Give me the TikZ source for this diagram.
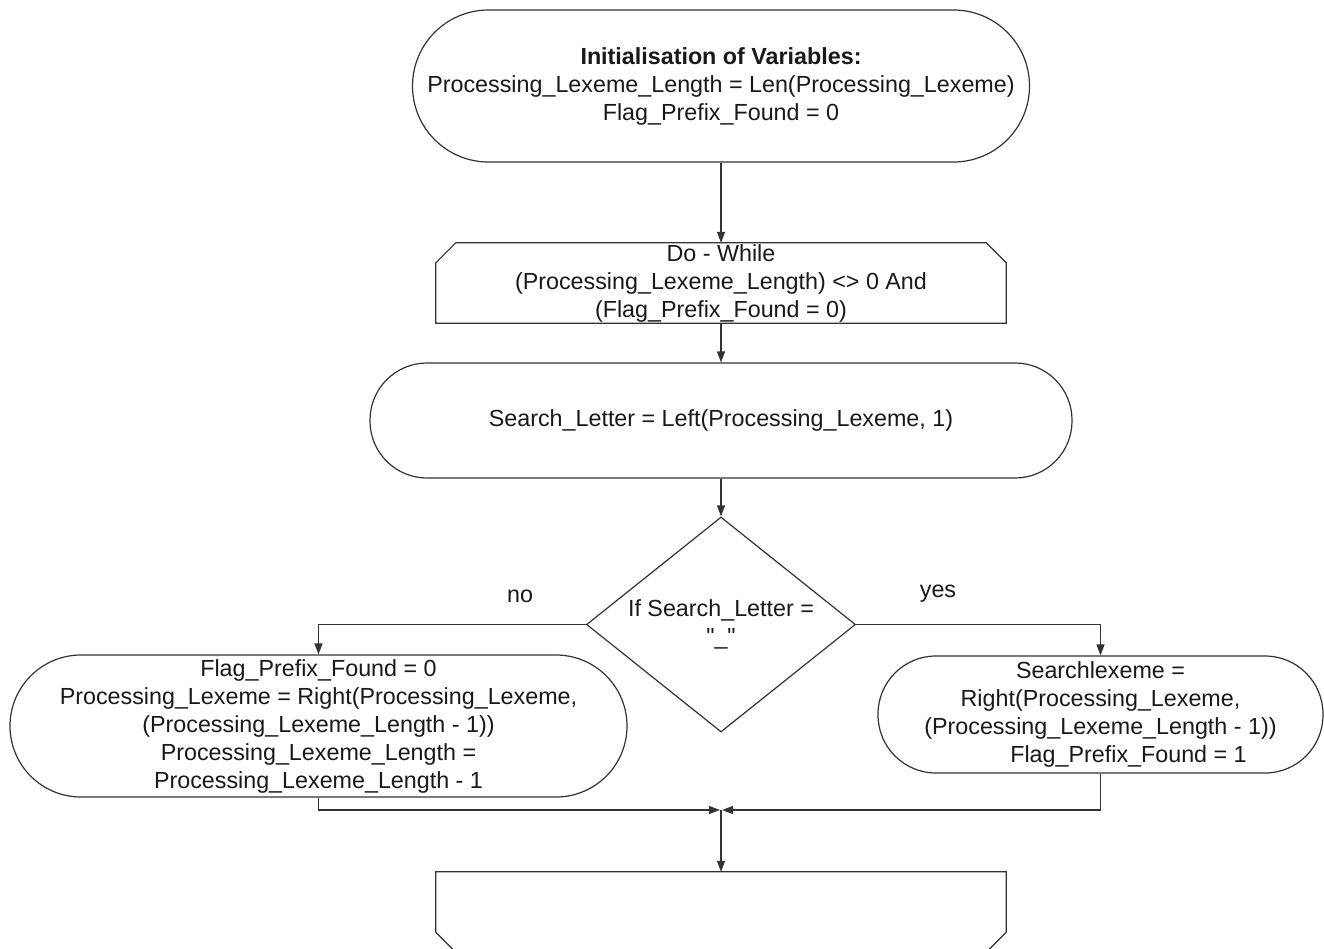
\documentclass[tikz,border=0pt]{standalone}
\usepackage{fontspec}
\setmainfont{Liberation Sans}
\newfontfamily\qfont{Liberation Sans}[Ligatures=TeXOff]
\usetikzlibrary{arrows.meta,shapes.geometric}
\begin{document}
\begin{tikzpicture}[x=1pt,y=-1pt,
  every node/.style={font=\fontsize{23.3}{28}\selectfont, text=black!90},
  ln/.style={draw=black!80, line width=1.2pt},
  arr/.style={ln, -{Triangle[length=11pt,width=8pt]}},
  term/.style={ln, rectangle, align=center, inner sep=0pt},
  plain/.style={rectangle, inner sep=0pt, align=center}]
\useasboundingbox (0,0) rectangle (1324,948);
\clip (0,0) rectangle (1324,948);
\fill[white] (0,0) rectangle (1324,948);

% top terminator
\node[term, minimum width=617pt, minimum height=152pt, rounded corners=76pt] (init) at (721,86)
  {\textbf{Initialisation of Variables:}\\Processing\_Lexeme\_Length = Len(Processing\_Lexeme)\\Flag\_Prefix\_Found = 0};

% loop begin
\node[plain, minimum width=570pt, minimum height=80pt] (loop) at (721,283)
  {Do - While\\(Processing\_Lexeme\_Length) <> 0 And\\(Flag\_Prefix\_Found = 0)};
\draw[ln] (loop.south west) -- ([yshift=-20pt]loop.north west) -- ([xshift=20pt]loop.north west)
  -- ([xshift=-20pt]loop.north east) -- ([yshift=-20pt]loop.north east) -- (loop.south east) -- cycle;

% search letter
\node[term, minimum width=702pt, minimum height=115pt, rounded corners=57pt] (search) at (721,420.5)
  {Search\_Letter = Left(Processing\_Lexeme, 1)};

% decision
\node[ln, diamond, minimum width=269pt, minimum height=215pt, inner sep=0pt] (dec) at (721,624.5) {};
\node[plain] (dectext) at (721,624) {If Search\_Letter =\\{\qfont "\_"}};

% branches
\node[term, minimum width=617pt, minimum height=142pt, rounded corners=71pt] (left) at (318.5,726)
  {\fontsize{23.3}{28.5}\selectfont Flag\_Prefix\_Found = 0\\Processing\_Lexeme = Right(Processing\_Lexeme,\\(Processing\_Lexeme\_Length - 1))\\Processing\_Lexeme\_Length =\\Processing\_Lexeme\_Length - 1};
\node[term, minimum width=445pt, minimum height=117pt, rounded corners=58pt] (right) at (1100.5,714.5)
  {Searchlexeme =\\Right(Processing\_Lexeme,\\(Processing\_Lexeme\_Length - 1))\\\hspace*{56pt}Flag\_Prefix\_Found = 1};

\node[plain] (no) at (520,596) {no};
\node[plain] (yes) at (938,594) {yes};

% loop end
\node[plain, minimum width=570pt, minimum height=80pt] (bot) at (721,912) {};
\draw[ln] (bot.north west) -- (bot.north east) -- ([yshift=20pt]bot.south east) -- ([xshift=-20pt]bot.south east)
  -- ([xshift=20pt]bot.south west) -- ([yshift=20pt]bot.south west) -- cycle;

\coordinate (join) at (721,810);

% connectors
\draw[arr] (init.south) -- (loop.north);
\draw[arr] (loop.south) -- (search.north);
\draw[arr] (search.south) -- (dec.north);
\draw[arr] (dec.west) -| (left.north);
\draw[arr] (dec.east) -| (right.north);
\draw[arr] (left.south) |- ([xshift=-1pt]join);
\draw[arr] (right.south) |- ([xshift=1pt]join);
\draw[arr] (join) -- (bot.north);
\end{tikzpicture}
\end{document}
